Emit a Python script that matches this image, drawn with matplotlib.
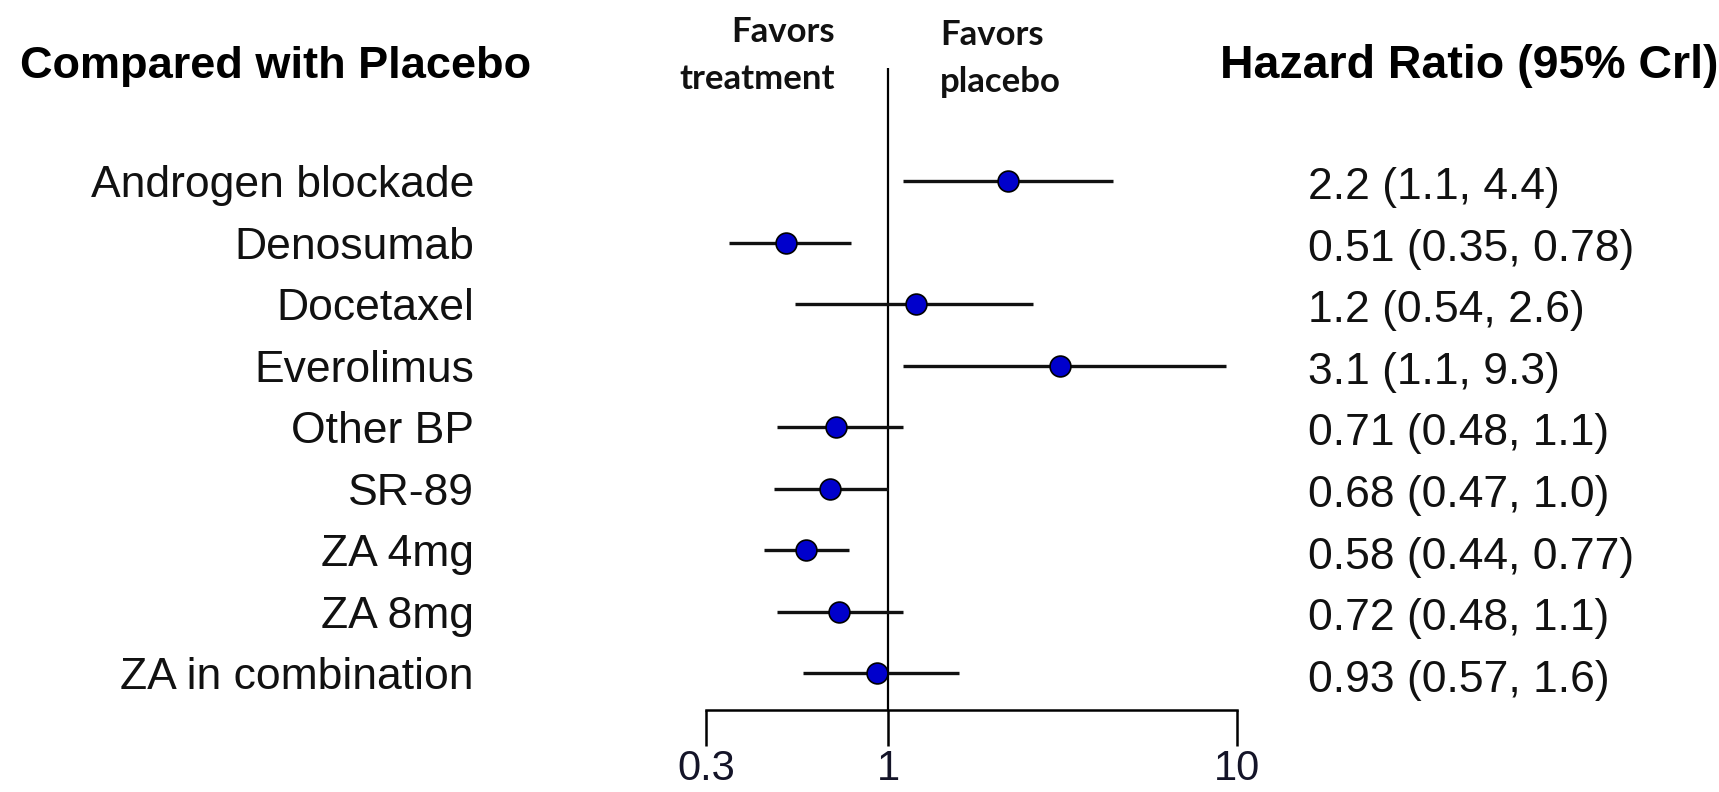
import matplotlib.pyplot as plt
import matplotlib.transforms as mtransforms

# data
treatments = ['Androgen blockade', 'Denosumab', 'Docetaxel', 'Everolimus', 'Other BP',
              'SR-89', 'ZA 4mg', 'ZA 8mg', 'ZA in combination']
hr = [2.2, 0.51, 1.2, 3.1, 0.71, 0.68, 0.58, 0.72, 0.93]
lower = [1.1, 0.35, 0.54, 1.1, 0.48, 0.47, 0.44, 0.48, 0.57]
upper = [4.4, 0.78, 2.6, 9.3, 1.1, 1.0, 0.77, 1.1, 1.6]
hr_text = ['2.2 (1.1, 4.4)', '0.51 (0.35, 0.78)', '1.2 (0.54, 2.6)', '3.1 (1.1, 9.3)',
           '0.71 (0.48, 1.1)', '0.68 (0.47, 1.0)', '0.58 (0.44, 0.77)', '0.72 (0.48, 1.1)',
           '0.93 (0.57, 1.6)']
xticks = [0.3, 1, 10]
xticklabels = ['0.3', '1', '10']

W, H = 1719, 792

def main():
	plt.rcParams['font.family'] = ['Liberation Sans', 'DejaVu Sans']
	fig = plt.figure(figsize=(W / 100, H / 100), dpi=100)

	# axes placed in pixel terms: x 706..1237, y 68..710 from top
	left, right, top, bottom = 706, 1237, 68, 710
	ax = fig.add_axes([left / W, 1 - bottom / H, (right - left) / W, (bottom - top) / H])
	ax.set_xscale('log')
	ax.set_xlim(0.3, 10)
	ax.set_ylim(8.60, -1.837)

	rows = list(range(len(treatments)))
	for i in rows:
		ax.plot([lower[i], upper[i]], [i, i], color='#111111', lw=2.4, solid_capstyle='butt', zorder=2)
	ax.plot(hr, rows, 'o', color='#0000cc', markeredgecolor='black', markeredgewidth=1.2,
		markersize=15, zorder=3, clip_on=False)
	ax.axvline(1, color='black', lw=1.6, zorder=1)

	for s in ['top', 'right', 'left']:
		ax.spines[s].set_visible(False)
	ax.spines['bottom'].set_linewidth(1.8)
	ax.set_yticks([])
	ax.set_xticks(xticks)
	ax.set_xticklabels(xticklabels)
	ax.minorticks_off()
	ax.tick_params(axis='x', direction='out', length=26, width=1.8, pad=2, labelsize=30,
		labelcolor='#141428')

	trans = mtransforms.blended_transform_factory(fig.transFigure, ax.transData)
	for i in rows:
		fig.text(474 / W, i + 0.26, treatments[i], transform=trans, ha='right', va='baseline',
			fontsize=32, color='#111111')
		fig.text(1308 / W, i + 0.30, hr_text[i], transform=trans, ha='left', va='baseline',
			fontsize=32, color='#111111')

	fig.text(20 / W, 1 - 78 / H, 'Compared with Placebo', ha='left', va='baseline',
		fontsize=32.5, fontweight='bold', color='black')
	fig.text(1220 / W, 1 - 78 / H, 'Hazard Ratio (95% Crl)', ha='left', va='baseline',
		fontsize=33.5, fontweight='bold', color='black')

	fav = dict(fontsize=25, fontweight='bold', color='#111111', family=['Lato', 'DejaVu Sans'])
	fig.text(835 / W, 1 - 42 / H, 'Favors', ha='right', va='baseline', **fav)
	fig.text(835 / W, 1 - 89 / H, 'treatment', ha='right', va='baseline', **fav)
	fig.text(940 / W, 1 - 45 / H, 'Favors', ha='left', va='baseline', **fav)
	fig.text(940 / W, 1 - 92 / H, 'placebo', ha='left', va='baseline', **fav)

	fig.savefig('out.png', dpi=100)

if __name__ == '__main__':
	main()
